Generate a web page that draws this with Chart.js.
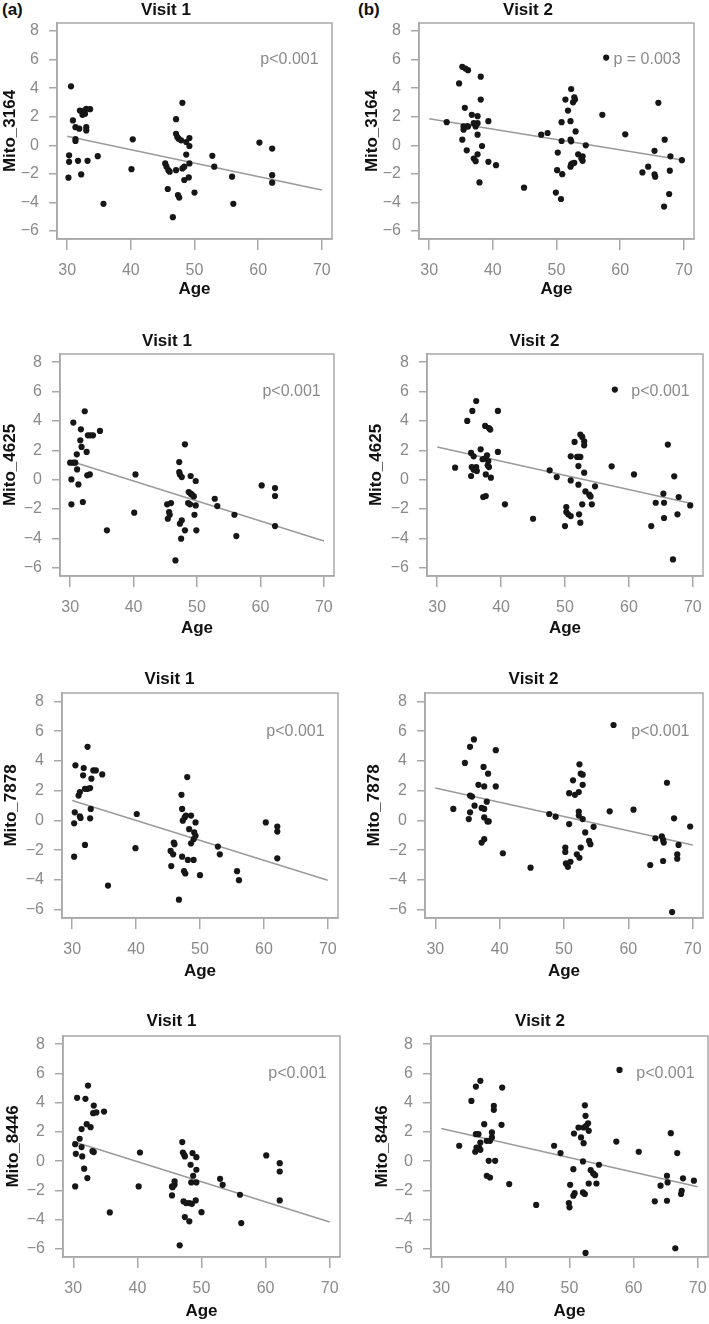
<!DOCTYPE html>
<html>
<head>
<meta charset="utf-8">
<script src="https://cdn.jsdelivr.net/npm/chart.js@4.4.0/dist/chart.umd.min.js"></script>
<style>
  body { margin: 0; background: #fff; }
  #wrap { position: relative; width: 709px; height: 1324px; overflow: hidden; background: #fff; }
  #wrap canvas { position: absolute; }
  .tag { position: absolute; font: bold 17px 'Liberation Sans', Arial, sans-serif; color: #111; line-height: 20px; }
</style>
</head>
<body>
<div id="wrap">
  <div class="tag" style="left:2px;top:0px">(a)</div>
  <div class="tag" style="left:358px;top:0px">(b)</div>
</div>
<script>
// axis ticks
const ageTicks = [30, 40, 50, 60, 70];
const valueTicks = [-6, -4, -2, 0, 2, 4, 6, 8];
const fitAges = [30, 70];

const visits = ['Visit 1', 'Visit 2'];
const genes = ['Mito_3164', 'Mito_4625', 'Mito_7878', 'Mito_8446'];
const pLabels = ['p<0.001', 'p = 0.003', 'p<0.001', 'p<0.001', 'p<0.001', 'p<0.001', 'p<0.001', 'p<0.001'];

// [age, value]
const v1_3164 = [[30.6,4.13],[30.9,1.74],[31.3,1.27],[31.9,1.16],[31.3,0.44],[31.3,0.30],[30.3,-0.70],[30.3,-1.16],[30.2,-2.27],[31.7,-1.09],[32.2,-2.04],[33.2,-1.09],[32.0,2.43],[32.4,2.13],[32.7,2.43],[33.0,2.55],[33.6,2.53],[32.8,2.20],[33.0,1.27],[33.0,1.04],[34.8,-0.76],[35.7,-4.10],[40.1,-1.67],[40.3,0.42],[47.1,1.83],[48.1,2.97],[47.1,0.80],[47.3,0.58],[47.5,0.46],[47.9,0.35],[48.7,0.23],[49.2,0.51],[49.2,-0.05],[48.7,-0.65],[45.4,-1.27],[45.6,-1.50],[45.9,-1.74],[46.1,-1.85],[47.1,-1.74],[48.1,-1.62],[48.4,-1.50],[49.2,-1.27],[48.4,-2.43],[49.1,-2.25],[45.8,-3.06],[47.4,-3.48],[47.6,-3.66],[46.6,-5.03],[50.0,-3.31],[52.8,-0.74],[53.1,-1.50],[55.9,-2.20],[56.1,-4.10],[60.2,0.19],[62.2,-0.23],[62.2,-2.09],[62.2,-2.62]];
const v2_3164 = [[32.75,1.62],[34.7,4.33],[35.2,5.49],[35.7,5.37],[36.1,5.26],[35.6,2.62],[35.2,0.39],[35.4,1.32],[35.4,1.09],[35.9,1.32],[36.1,1.32],[35.9,-0.35],[36.7,2.13],[37.0,1.55],[37.3,1.32],[37.6,1.55],[37.0,-0.93],[37.3,-1.11],[37.6,-0.63],[37.6,2.04],[37.6,0.74],[38.1,4.8],[38.1,3.2],[37.9,-2.6],[38.3,-0.05],[39.3,1.69],[39.3,-1.16],[40.5,-1.39],[44.9,-2.97],[47.6,0.74],[48.6,0.86],[49.9,-3.31],[50.2,-0.51],[50.1,-1.74],[50.7,-3.76],[50.8,1.62],[50.8,0.3],[50.9,-2.02],[51.4,3.2],[51.8,2.43],[52.2,1.69],[52.2,0.39],[52.3,0.28],[52.3,3.94],[52.6,3.01],[52.9,3.2],[52.8,3.36],[52.3,-1.34],[52.5,-1.27],[52.8,-1.23],[52.2,-1.5],[53.0,0.97],[53.4,-0.63],[53.9,-0.93],[54.1,-0.77],[54.1,-1.09],[54.6,0.0],[57.2,2.13],[57.8,6.14],[60.8,0.77],[63.5,-1.9],[64.4,-1.5],[65.4,-0.39],[65.4,-2.04],[65.5,-2.2],[66.0,2.97],[67.0,0.39],[66.9,-4.29],[67.7,-3.41],[67.8,-1.78],[67.9,-0.77],[69.7,-1.04]];
const v1_4625 = [[30.5,3.89],[32.3,4.66],[31.7,3.43],[31.6,2.68],[31.8,2.23],[32.6,1.89],[31.05,1.73],[30.0,1.16],[30.5,1.16],[30.8,1.16],[31.1,0.7],[30.2,0.02],[31.3,-0.32],[30.2,-1.68],[32.0,-1.52],[32.8,3.02],[33.2,3.02],[33.6,3.02],[34.7,3.32],[32.7,0.3],[33.1,0.36],[35.8,-3.45],[40.3,0.36],[40.1,-2.25],[48.1,2.41],[47.2,1.2],[47.2,0.52],[47.3,0.36],[47.6,0.18],[49.0,0.25],[49.8,-0.09],[48.7,-0.84],[49.0,-0.95],[49.2,-1.02],[49.5,-1.14],[48.6,-1.59],[48.9,-1.68],[49.8,-1.75],[49.6,-2.39],[45.3,-1.68],[45.9,-1.59],[45.6,-2.2],[45.7,-2.39],[45.4,-2.66],[47.6,-2.77],[47.3,-3.0],[48.1,-3.45],[49.9,-3.45],[47.5,-4.02],[46.6,-5.5],[52.8,-1.3],[53.2,-1.8],[55.9,-2.39],[56.2,-3.84],[60.2,-0.39],[62.3,-0.57],[62.3,-1.11],[62.3,-3.16]];
const v2_4625 = [[32.8,0.82],[34.7,4.0],[35.5,4.68],[36.1,5.36],[35.3,1.82],[35.7,1.59],[35.4,0.86],[35.7,0.68],[36.1,0.86],[36.1,0.64],[35.3,0.25],[36.2,0.59],[36.8,2.07],[37.1,1.39],[37.4,1.43],[37.5,3.66],[38.1,3.52],[38.3,3.41],[37.8,1.66],[37.9,0.98],[38.0,1.27],[38.1,0.86],[37.6,0.36],[38.4,0.14],[37.2,-1.18],[37.6,-1.11],[39.5,4.68],[39.5,1.89],[40.6,-1.68],[45.0,-2.66],[47.6,0.64],[48.7,0.18],[50.0,-3.16],[50.2,-1.86],[50.2,-2.2],[50.5,-2.36],[50.9,-2.48],[50.9,-0.05],[50.9,1.59],[51.5,2.57],[51.9,1.55],[52.2,1.55],[52.4,1.55],[52.1,0.93],[52.1,-0.34],[52.2,-2.36],[52.4,-2.93],[52.4,3.07],[52.7,2.91],[53.0,2.61],[53.0,2.34],[53.0,0.48],[52.7,-1.68],[53.2,-0.8],[53.8,-1.02],[54.0,-1.14],[54.2,-1.68],[54.7,-0.45],[57.3,0.91],[57.8,6.14],[60.8,0.36],[63.5,-3.16],[64.2,-1.57],[65.4,-0.95],[65.5,-1.57],[65.5,-2.61],[66.1,2.39],[67.1,0.23],[67.8,-1.18],[67.6,-2.36],[66.9,-5.43],[69.6,-1.75]];
const v1_7878 = [[30.5,3.7],[30.4,0.54],[30.3,-0.2],[30.3,-2.44],[32.4,4.94],[31.8,3.52],[31.7,3.03],[31.2,1.9],[31.0,1.67],[32.0,2.12],[32.4,2.12],[32.8,2.17],[33.0,2.8],[33.3,3.36],[33.7,3.36],[34.7,3.09],[31.2,0.27],[31.3,0.16],[32.9,0.77],[32.8,0.14],[32.0,-1.65],[35.6,-4.38],[40.1,0.43],[39.9,-1.87],[48.0,2.91],[47.1,1.72],[47.2,0.77],[47.3,-0.02],[47.6,0.2],[47.8,0.32],[48.6,0.32],[49.3,-0.14],[48.3,-0.59],[49.1,-0.81],[49.3,-1.04],[49.0,-1.26],[48.6,-1.54],[45.4,-2.05],[45.8,-2.28],[45.9,-1.49],[46.0,-1.6],[45.5,-3.07],[47.2,-2.44],[48.1,-2.66],[49.0,-2.66],[47.5,-3.41],[47.7,-3.57],[50.0,-3.68],[46.7,-5.33],[52.8,-1.76],[53.1,-2.28],[55.8,-3.41],[56.1,-4.02],[60.3,-0.14],[62.1,-0.41],[62.1,-0.75],[62.1,-2.55]];
const v2_7878 = [[32.8,0.77],[34.6,3.86],[35.4,4.94],[36.0,5.44],[35.4,1.67],[35.7,1.6],[35.4,0.54],[35.2,0.09],[36.1,0.99],[36.7,2.39],[37.2,0.84],[37.6,0.77],[37.5,3.59],[37.6,2.28],[38.0,1.26],[38.2,3.14],[37.6,0.2],[38.1,-0.07],[38.3,-0.07],[37.2,-1.49],[37.6,-1.26],[39.4,4.72],[39.4,2.28],[40.5,-2.21],[44.8,-3.18],[47.7,0.43],[48.7,0.25],[50.2,-1.83],[50.2,-2.12],[50.3,-2.89],[50.6,-3.12],[51.0,-2.78],[50.8,-0.25],[50.8,1.83],[51.4,2.69],[51.7,1.72],[52.3,1.9],[52.3,0.59],[52.3,0.32],[52.0,-2.28],[52.4,-2.51],[52.4,3.77],[52.6,3.14],[52.9,3.07],[52.9,2.39],[52.6,-1.83],[52.9,0.09],[53.3,-0.81],[53.9,-1.38],[54.1,-1.6],[54.6,-0.43],[57.1,0.61],[57.7,6.41],[60.8,0.72],[63.4,-3.0],[64.2,-1.2],[65.2,-1.08],[65.4,-1.31],[65.5,-1.49],[65.4,-2.73],[66.0,2.53],[67.1,0.14],[67.8,-1.65],[67.6,-2.28],[67.6,-2.57],[66.8,-6.16],[69.6,-0.41]];
const v1_8446 = [[30.6,4.33],[31.9,4.26],[32.3,5.17],[30.3,1.16],[30.4,0.5],[30.3,-1.73],[31.0,1.53],[31.3,0.96],[31.3,2.19],[31.4,0.32],[31.7,-0.52],[32.2,-1.16],[32.1,2.53],[32.7,2.32],[33.2,3.8],[33.1,3.28],[33.6,3.33],[34.8,3.39],[33.0,0.68],[33.2,0.62],[35.7,-3.51],[40.4,0.59],[40.2,-1.73],[47.0,1.3],[47.1,0.59],[47.3,0.43],[47.4,0.32],[48.6,0.55],[49.2,0.27],[48.3,-0.25],[49.2,-0.59],[48.7,-1.0],[48.4,-1.46],[49.2,-1.46],[45.8,-1.39],[45.8,-1.62],[45.5,-1.78],[45.4,-1.73],[45.4,-2.35],[47.2,-2.76],[47.6,-2.87],[48.1,-2.87],[48.5,-2.92],[49.1,-2.69],[47.4,-3.83],[48.1,-4.12],[50.0,-3.49],[46.6,-5.76],[52.9,-1.21],[53.3,-1.62],[56.0,-2.3],[56.2,-4.24],[60.1,0.39],[62.2,-0.14],[62.2,-0.71],[62.2,-2.69]];
const v2_8446 = [[32.8,1.05],[34.7,4.12],[35.4,5.1],[36.1,5.49],[35.4,1.84],[35.8,1.84],[35.3,0.64],[35.5,0.93],[35.9,0.93],[36.1,0.77],[36.1,1.27],[36.7,2.53],[37.1,1.39],[37.6,1.39],[37.9,1.62],[37.9,1.96],[38.2,3.78],[38.2,3.51],[37.4,0.02],[38.4,0.02],[37.1,-1.0],[37.6,-1.12],[39.5,5.03],[39.4,2.48],[40.6,-1.57],[44.8,-3.0],[47.6,1.05],[48.6,0.55],[50.1,-1.62],[49.9,-2.87],[50.0,-3.16],[50.6,-0.55],[50.6,-2.37],[50.8,-2.19],[50.7,1.89],[51.4,2.3],[51.8,1.62],[52.2,1.23],[52.1,-2.14],[52.4,-2.25],[52.2,2.3],[52.1,-0.02],[52.4,3.82],[52.5,3.1],[52.9,2.59],[53.0,2.07],[52.6,2.41],[53.0,-1.53],[53.3,-0.61],[53.7,-0.84],[54.0,-0.96],[54.2,-1.53],[54.6,-0.25],[57.3,1.34],[57.8,6.24],[60.8,0.64],[63.3,-2.75],[64.2,-1.68],[65.2,-1.0],[65.3,-1.46],[65.2,-2.71],[65.8,1.91],[66.8,0.55],[67.5,-2.03],[67.4,-2.25],[67.7,-1.18],[66.5,-5.96],[52.5,-6.28],[69.4,-1.34]];

// fitted line, value at age 30 and age 70
const fit_v1_3164 = [0.63, -3.13];
const fit_v2_3164 = [1.85, -1.04];
const fit_v1_4625 = [1.27, -4.18];
const fit_v2_4625 = [2.23, -1.64];
const fit_v1_7878 = [1.33, -4.02];
const fit_v2_7878 = [2.17, -1.65];
const fit_v1_8446 = [1.34, -4.17];
const fit_v2_8446 = [2.23, -1.75];

const series = [v1_3164, v2_3164, v1_4625, v2_4625, v1_7878, v2_7878, v1_8446, v2_8446];
const fits = [fit_v1_3164, fit_v2_3164, fit_v1_4625, fit_v2_4625, fit_v1_7878, fit_v2_7878, fit_v1_8446, fit_v2_8446];

// layout: plot box [left, top, right, bottom], title centre, y title x, Age offset below box
const boxes = [
  { box: [57, 23, 332, 239],    tx: 187,   ty: 10.3,   yx: 10,    ageOff: 51 },
  { box: [419, 23, 694, 239],   tx: 551.7, ty: 10.3,   yx: 371.7, ageOff: 51 },
  { box: [60, 354, 334, 576],   tx: 187,   ty: 340.8,  yx: 10,    ageOff: 52.3 },
  { box: [427, 354, 703, 576],  tx: 553.3, ty: 340.8,  yx: 375.7, ageOff: 52.3 },
  { box: [62, 693, 338, 918],   tx: 188.3, ty: 679.2,  yx: 10.7,  ageOff: 53.7 },
  { box: [425, 693, 703, 918],  tx: 553.3, ty: 679.2,  yx: 374.3, ageOff: 53.7 },
  { box: [63, 1036, 340, 1257], tx: 194,   ty: 1021.2, yx: 13,    ageOff: 54.7 },
  { box: [431, 1036, 708, 1257],tx: 560,   ty: 1021.2, yx: 381.7, ageOff: 54.7 }
];

const FONT = "'Liberation Sans', Arial, Helvetica, sans-serif";
Chart.defaults.font.family = FONT;

const frame = {
  id: 'frame',
  afterDraw(chart, args, o) {
    const { ctx, chartArea: a, scales } = chart;
    ctx.save();
    ctx.strokeStyle = '#a8a8a8';
    ctx.lineWidth = 1.5;
    ctx.strokeRect(a.left, a.top, a.right - a.left, a.bottom - a.top);
    ctx.fillStyle = '#8a8a8a';
    ctx.font = '16px ' + FONT;
    ctx.textAlign = 'right';
    ctx.textBaseline = 'middle';
    ctx.fillText(o.text, scales.x.getPixelForValue(69.5), scales.y.getPixelForValue(6));
    ctx.restore();
  }
};

const wrap = document.getElementById('wrap');

boxes.forEach((lay, i) => {
  const [L, T, R, B] = lay.box;
  const half = 10.2; // 17px * 1.2 / 2
  const cl = Math.round(lay.yx - half);
  const ct = Math.round(lay.ty - half);
  const cw = Math.round(2 * (lay.tx - cl));
  const cb = Math.round(B + lay.ageOff + half);
  const ch = cb - ct;

  const canvas = document.createElement('canvas');
  canvas.width = cw;
  canvas.height = ch;
  canvas.style.left = cl + 'px';
  canvas.style.top = ct + 'px';
  canvas.style.width = cw + 'px';
  canvas.style.height = ch + 'px';
  wrap.appendChild(canvas);

  const yW = L - cl;
  const xH = cb - B;
  const titleBottom = (T - ct) - 20.4;

  new Chart(canvas.getContext('2d'), {
    type: 'scatter',
    data: {
      datasets: [
        {
          data: series[i].map(p => ({ x: p[0], y: p[1] })),
          backgroundColor: '#161616',
          borderWidth: 0,
          pointRadius: 3.1,
          order: 1
        },
        {
          data: fitAges.map((a, k) => ({ x: a, y: fits[i][k] })),
          showLine: true,
          borderColor: '#9a9a9a',
          borderWidth: 1.5,
          pointRadius: 0,
          order: 2
        }
      ]
    },
    options: {
      responsive: false,
      animation: false,
      devicePixelRatio: 1,
      layout: { padding: { left: 0, top: 0, bottom: 0, right: cw - R + cl } },
      plugins: {
        legend: { display: false },
        tooltip: { enabled: false },
        title: {
          display: true,
          text: visits[i % 2],
          color: '#111',
          font: { size: 17, weight: 'bold' },
          padding: { top: 0, bottom: titleBottom }
        },
        frame: { text: pLabels[i] }
      },
      scales: {
        x: {
          type: 'linear',
          min: 28.4,
          max: 71.6,
          afterBuildTicks: s => { s.ticks = ageTicks.map(v => ({ value: v })); },
          afterFit: s => { s.height = xH; },
          grid: { drawOnChartArea: false, drawTicks: true, tickLength: 11, color: '#a8a8a8', lineWidth: 1.5 },
          border: { display: true, color: '#a8a8a8', width: 1.5 },
          ticks: { color: '#8a8a8a', font: { size: 16 }, padding: 11, maxRotation: 0, autoSkip: false },
          title: { display: true, text: 'Age', color: '#111', font: { size: 17, weight: 'bold' }, padding: { top: 0, bottom: 0 } }
        },
        y: {
          type: 'linear',
          min: -6.56,
          max: 8.56,
          afterBuildTicks: s => { s.ticks = valueTicks.map(v => ({ value: v })); },
          afterFit: s => { s.width = yW; },
          grid: { drawOnChartArea: false, drawTicks: true, tickLength: 8, color: '#a8a8a8', lineWidth: 1.5 },
          border: { display: true, color: '#a8a8a8', width: 1.5 },
          ticks: {
            color: '#8a8a8a',
            font: { size: 16 },
            padding: 10,
            autoSkip: false,
            callback: v => (v < 0 ? '\u2212' + Math.abs(v) : String(v))
          },
          title: { display: true, text: genes[Math.floor(i / 2)], color: '#111', font: { size: 17, weight: 'bold' }, padding: { top: 0, bottom: 0 } }
        }
      }
    },
    plugins: [frame]
  });
});
</script>
</body>
</html>
